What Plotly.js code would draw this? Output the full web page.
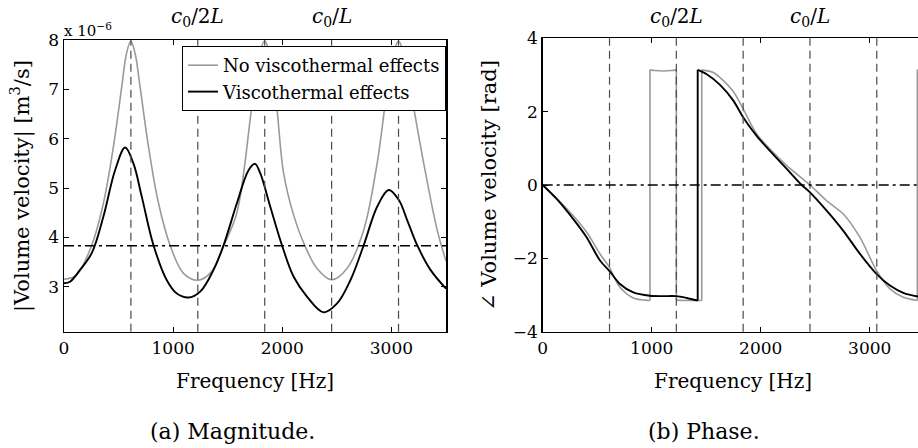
<!DOCTYPE html>
<html>
<head>
<meta charset="utf-8">
<script src="https://cdn.plot.ly/plotly-3.0.1.min.js"></script>
<style>
html,body{margin:0;padding:0;overflow:hidden;background:#fff;}
#chart{width:930px;height:448px;}
</style>
</head>
<body>
<div id="chart"></div>
<script>
// ---------- Data ----------
// Magnitude, no viscothermal effects (Hz, m^3/s)
var magFreqNoVT = [0,116,254,361,453,529,572,612,652,697,774,866,972,1095,1226,1350,1466,1584,1718,1790,1839,1885,1951,2012,2104,2211,2318,2452,2593,2746,2869,2961,3020,3065,3110,3174,3296,3419,3500];
var magNoVT = [3.15,3.24,3.84,4.69,5.84,7.05,7.72,7.98,7.72,7.05,5.84,4.69,3.84,3.27,3.13,3.30,3.84,4.50,6.60,7.72,7.98,7.72,6.60,5.30,4.45,3.81,3.37,3.14,3.37,4.15,5.50,7.00,7.75,7.98,7.75,7.00,5.50,4.15,3.52].map(function(v){return v*1e-6;});
// Magnitude, viscothermal effects
var magFreqVT = [0,55,147,254,361,468,560,636,713,820,942,1034,1141,1248,1370,1462,1584,1691,1750,1798,1890,1997,2104,2226,2379,2502,2624,2746,2869,2975,3067,3144,3236,3358,3500];
var magVT = [3.07,3.10,3.34,3.68,4.42,5.36,5.82,5.50,4.82,3.84,3.13,2.86,2.78,2.90,3.34,3.84,4.69,5.36,5.49,5.30,4.62,3.84,3.20,2.80,2.48,2.66,3.13,3.84,4.62,4.96,4.76,4.35,3.84,3.34,2.96].map(function(v){return v*1e-6;});
// Phase, no viscothermal effects (rad); repeated frequency = phase wrap jump
var phFreqNoVT = [0,128,281,404,526,611,709,831,940,984,984,1030,1105,1180,1226,1226,1300,1400,1459,1459,1565,1627,1749,1840,1963,2085,2239,2452,2605,2758,2911,3064,3186,3308,3437,3437,3500];
var phNoVT = [0,-0.36,-0.84,-1.29,-1.88,-2.24,-2.79,-3.08,-3.14,-3.15,3.14,3.12,3.11,3.12,3.14,-3.14,-3.15,-3.15,-3.15,3.14,3.07,2.93,2.55,2.07,1.39,0.98,0.53,0,-0.43,-0.79,-1.43,-2.34,-2.83,-3.06,-3.15,3.14,3.13];
// Phase, viscothermal effects
var phFreqVT = [0,128,281,404,526,611,709,831,984,1100,1223,1321,1422,1422,1505,1627,1749,1840,1963,2085,2239,2376,2452,2605,2758,2911,3064,3186,3308,3443,3500];
var phVT = [0,-0.38,-0.93,-1.43,-2.06,-2.34,-2.70,-2.93,-3.02,-3.03,-3.03,-3.08,-3.15,3.14,3.02,2.73,2.30,1.84,1.34,0.93,0.44,0,-0.20,-0.70,-1.25,-1.88,-2.43,-2.74,-2.94,-3.04,-3.06];
// Reference lines
var modeFreqs = [613,1226,1839,2452,3065];
var magRefLevel = 3.83e-6;
var phaseRefLevel = 0;
var markLabels = [{f:1226, text:'<i>c</i><sub>0</sub>/2<i>L</i>'},{f:2452, text:'<i>c</i><sub>0</sub>/<i>L</i>'}];
var xTicks = [0,1000,2000,3000];
var magTicks = [3e-6,4e-6,5e-6,6e-6,7e-6,8e-6];
var magTickText = ['3','4','5','6','7','8'];
var phTicks = [-4,-2,0,2,4];

// ---------- Styling ----------
var W = 930, H = 448;
var FONT = 'DejaVu Serif';
var GRAY = '#9a9a9a';
function px2x(p){return p/W;}
function px2y(p){return 1-p/H;}

// split a phase series into smooth pieces (spline) and wrap jumps (straight)
function splitPhase(fx, fy){
  var sx=[], sy=[], jx=[], jy=[];
  for (var i=0;i<fx.length;i++){
    if (i>0 && fx[i]===fx[i-1]){
      jx.push(fx[i-1], fx[i], null); jy.push(fy[i-1], fy[i], null);
      sx.push(null); sy.push(null);
    }
    sx.push(fx[i]); sy.push(fy[i]);
  }
  return {sx:sx, sy:sy, jx:jx, jy:jy};
}
var pN = splitPhase(phFreqNoVT, phNoVT);
var pV = splitPhase(phFreqVT, phVT);

var traces = [
  {x:magFreqNoVT, y:magNoVT, xaxis:'x', yaxis:'y', mode:'lines', name:'No viscothermal effects',
   line:{color:GRAY, width:1.6, shape:'spline', smoothing:1}},
  {x:magFreqVT, y:magVT, xaxis:'x', yaxis:'y', mode:'lines', name:'Viscothermal effects',
   line:{color:'#000', width:1.9, shape:'spline', smoothing:1}},
  {x:pN.sx, y:pN.sy, xaxis:'x2', yaxis:'y2', mode:'lines', showlegend:false, connectgaps:false,
   line:{color:GRAY, width:1.6, shape:'spline', smoothing:0.8}},
  {x:pN.jx, y:pN.jy, xaxis:'x2', yaxis:'y2', mode:'lines', showlegend:false, connectgaps:false,
   line:{color:GRAY, width:1.6}},
  {x:pV.sx, y:pV.sy, xaxis:'x2', yaxis:'y2', mode:'lines', showlegend:false, connectgaps:false,
   line:{color:'#000', width:1.9, shape:'spline', smoothing:0.8}},
  {x:pV.jx, y:pV.jy, xaxis:'x2', yaxis:'y2', mode:'lines', showlegend:false, connectgaps:false,
   line:{color:'#000', width:1.9}}
];

var shapes = [];
modeFreqs.forEach(function(f){
  ['x','x2'].forEach(function(ax){
    shapes.push({type:'line', xref:ax, yref:(ax==='x'?'y domain':'y2 domain'), x0:f, x1:f, y0:0, y1:1,
      line:{color:'#4a4a4a', width:1.2, dash:'8px,5px'}});
  });
});
shapes.push({type:'line', xref:'x domain', yref:'y', x0:0, x1:1, y0:magRefLevel, y1:magRefLevel,
  line:{color:'#000', width:1.5, dash:'10px,4px,3px,4px'}});
shapes.push({type:'line', xref:'x2 domain', yref:'y2', x0:0, x1:1, y0:phaseRefLevel, y1:phaseRefLevel,
  line:{color:'#000', width:1.5, dash:'10px,4px,3px,4px'}});

var annotations = [];
markLabels.forEach(function(m){
  ['x','x2'].forEach(function(ax){
    annotations.push({xref:ax, yref:'paper', x:m.f, y:px2y(17), text:m.text, showarrow:false,
      xanchor:'center', yanchor:'middle', font:{family:FONT, size:20, color:'#000'}});
  });
});
annotations.push({xref:'paper', yref:'paper', x:px2x(62), y:px2y(30), text:'x 10<sup>\u22126</sup>',
  showarrow:false, xanchor:'left', yanchor:'middle', font:{family:FONT, size:15, color:'#000'}});
annotations.push({xref:'x domain', yref:'paper', x:0.5, y:px2y(381), text:'Frequency [Hz]', showarrow:false,
  xanchor:'center', yanchor:'middle', font:{family:FONT, size:20, color:'#000'}});
annotations.push({xref:'x2 domain', yref:'paper', x:0.5, y:px2y(381), text:'Frequency [Hz]', showarrow:false,
  xanchor:'center', yanchor:'middle', font:{family:FONT, size:20, color:'#000'}});
annotations.push({xref:'paper', yref:'paper', x:px2x(20), y:px2y(186), text:'|Volume velocity| [m<sup>3</sup>/s]',
  textangle:-90, showarrow:false, xanchor:'center', yanchor:'middle', font:{family:FONT, size:21, color:'#000'}});
annotations.push({xref:'paper', yref:'paper', x:px2x(489), y:px2y(185), text:'\u2220 Volume velocity [rad]',
  textangle:-90, showarrow:false, xanchor:'center', yanchor:'middle', font:{family:FONT, size:21, color:'#000'}});
annotations.push({xref:'paper', yref:'paper', x:px2x(232), y:px2y(431), text:'(a) Magnitude.', showarrow:false,
  xanchor:'center', yanchor:'middle', font:{family:FONT, size:22, color:'#000'}});
annotations.push({xref:'paper', yref:'paper', x:px2x(704), y:px2y(431), text:'(b) Phase.', showarrow:false,
  xanchor:'center', yanchor:'middle', font:{family:FONT, size:22, color:'#000'}});

function xAxis(dom, anchor){
  return {domain:dom, anchor:anchor, range:[0,3500], tickvals:xTicks, ticks:'inside', ticklen:5, tickwidth:1, tickcolor:'#000',
    showline:true, linecolor:'#000', linewidth:1.5, mirror:'allticks', showgrid:false, zeroline:false,
    tickfont:{family:FONT, size:17, color:'#000'}, fixedrange:true};
}
var layout = {
  width:W, height:H, margin:{l:0,r:0,t:0,b:0}, paper_bgcolor:'#fff', plot_bgcolor:'#fff',
  font:{family:FONT, size:17, color:'#000'},
  xaxis: xAxis([px2x(64), px2x(446)], 'y'),
  xaxis2: xAxis([px2x(542.7), px2x(924.2)], 'y2'),
  yaxis: {domain:[px2y(331.7), px2y(40)], anchor:'x', range:[2.087e-6, 8e-6], tickvals:magTicks, ticktext:magTickText,
    ticks:'inside', ticklen:5, tickwidth:1, tickcolor:'#000', showline:true, linecolor:'#000', linewidth:1.5,
    mirror:'allticks', showgrid:false, zeroline:false, tickfont:{family:FONT, size:17, color:'#000'}, fixedrange:true},
  yaxis2: {domain:[px2y(331.7), px2y(38.3)], anchor:'x2', range:[-4,4], tickvals:phTicks,
    ticks:'inside', ticklen:5, tickwidth:1, tickcolor:'#000', showline:true, linecolor:'#000', linewidth:1.5,
    mirror:'allticks', showgrid:false, zeroline:false, tickfont:{family:FONT, size:17, color:'#000'}, fixedrange:true},
  showlegend:true,
  legend:{x:px2x(446), y:px2y(46), xanchor:'right', yanchor:'top', bgcolor:'#fff', bordercolor:'#000', borderwidth:1,
    font:{family:FONT, size:18, color:'#000'}, itemwidth:30, tracegroupgap:0},
  shapes:shapes, annotations:annotations
};
Plotly.newPlot('chart', traces, layout, {displayModeBar:false, staticPlot:true});
</script>
</body>
</html>
